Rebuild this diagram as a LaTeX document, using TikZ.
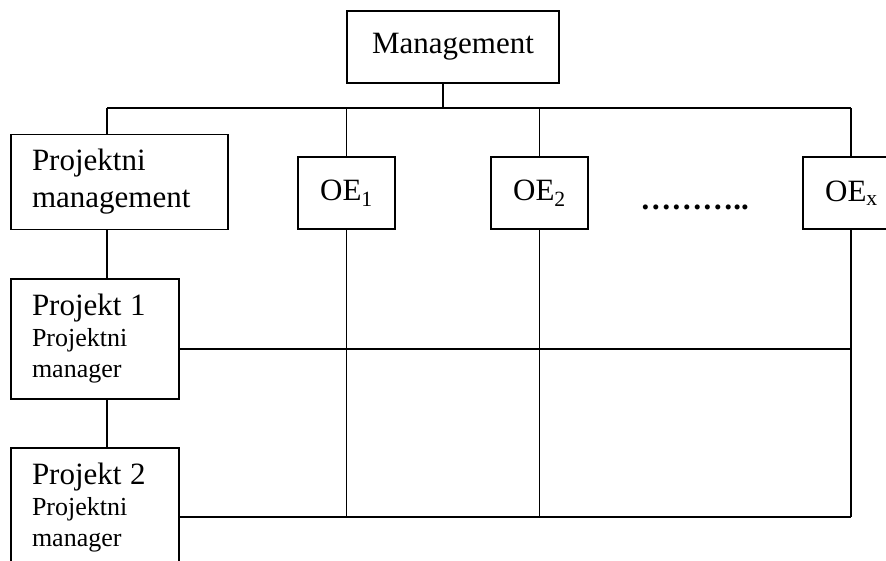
\documentclass[tikz,border=0pt]{standalone}
\usepackage{fontspec}
\setmainfont{Liberation Serif}
\usetikzlibrary{positioning}

\newcommand{\bigtxt}{\fontsize{31}{37}\selectfont}
\newcommand{\smalltxt}{\fontsize{26}{31}\selectfont}

\begin{document}
\begin{tikzpicture}[
        x=1pt, y=-1pt,
        every node/.style={font=\bigtxt},
        unit/.style={rectangle, draw=black, line width=1.8pt, fill=white, inner sep=0pt},
        leftbox/.style={unit, align=left, inner xsep=21pt},
        projbox/.style={leftbox, font=\smalltxt, text width=126pt, minimum height=120pt},
        line/.style={draw=black, line width=1.8pt}
        ]
        \useasboundingbox (0,0) rectangle (886,560);
        \clip (0,0) rectangle (886,560);

        % Top of the hierarchy
        \node[unit, minimum width=212pt, minimum height=72pt] (mgmt) at (453,47) {Management};

        % Second row
        \node[leftbox, text width=175pt, minimum height=95pt] (pm) at (119.5,182) {Projektni\\management};
        \node[unit, minimum width=97pt, minimum height=72pt] (oe1) at (346.5,193) {OE\textsubscript{1}};
        \node[unit, minimum width=97pt, minimum height=72pt] (oe2) at (539.5,193) {OE\textsubscript{2}};
        \node[inner sep=0pt] (dots) at (694.5,207) {\textbf{………..}};
        \node[unit, minimum width=97pt, minimum height=72pt] (oex) at (851.5,193) {OE\textsubscript{x}};

        % Projects
        \node[projbox] (p1) at (95,339) {{\bigtxt Projekt 1}\\Projektni\\manager};
        \node[projbox] (p2) at (95,508) {{\bigtxt Projekt 2}\\Projektni\\manager};

        % Bus and grid coordinates
        \coordinate (busL) at (107,108);
        \coordinate (busM) at (443,108);
        \coordinate (busR) at (851,108);
        \coordinate (rowA) at (851,349);
        \coordinate (rowB) at (851,517);

        % Connections
        \draw[line] (busL) -- (busR);
        \draw[line] (busM) -- (busM |- mgmt.south);
        \draw[line] (busL) -- (busL |- pm.north);
        \draw[line] (busL |- pm.south) -- (busL |- p1.north);
        \draw[line] (busL |- p1.south) -- (busL |- p2.north);
        \draw[line] (oe1.north |- busL) -- (oe1.north);
        \draw[line] (oe2.north |- busL) -- (oe2.north);
        \draw[line] (busR) -- (busR |- oex.north);
        \draw[line] (oe1.south) -- (oe1.south |- rowB);
        \draw[line] (oe2.south) -- (oe2.south |- rowB);
        \draw[line] (rowA |- oex.south) -- (rowB);
        \draw[line] (p1.east |- rowA) -- (rowA);
        \draw[line] (p2.east |- rowB) -- (rowB);

    \end{tikzpicture}
\end{document}
